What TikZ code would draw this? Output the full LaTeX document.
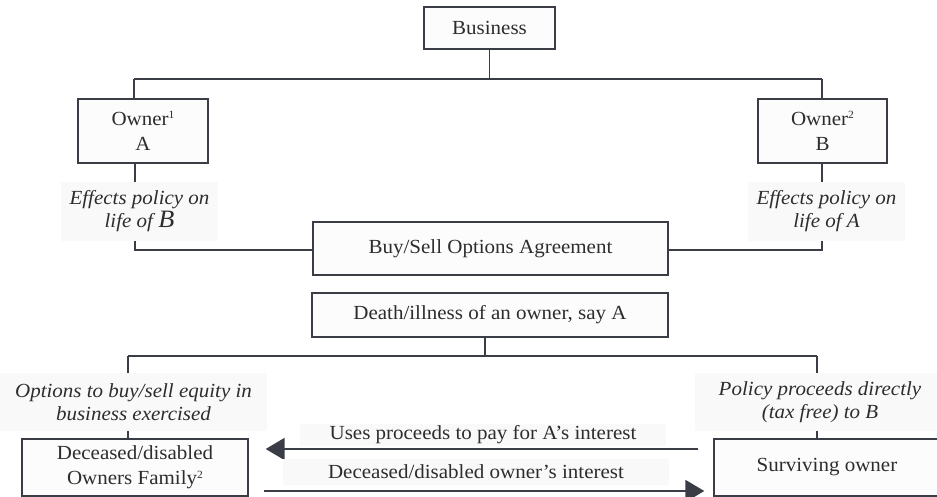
\documentclass[tikz,border=0pt]{standalone}
\usepackage{fontspec}
\setmainfont{Liberation Serif}[FakeStretch=1.05]
\usetikzlibrary{arrows.meta,calc}
\definecolor{ln}{RGB}{58,61,70}
\definecolor{tx}{RGB}{45,45,48}
\definecolor{lbg}{RGB}{249,249,249}
\definecolor{bfill}{RGB}{252,252,252}
\newcommand\mysup[1]{\raisebox{6.5pt}{\fontsize{11}{11}\selectfont #1}}
\tikzset{
  box/.style={draw=ln, line width=1.4pt, fill=bfill, text=tx, align=center, inner sep=0pt,
    font=\fontsize{20}{25}\selectfont},
  lbl/.style={fill=lbg, text=tx, align=center, inner sep=0pt,
    font=\fontsize{20}{23}\selectfont\itshape},
  albl/.style={fill=lbg, text=tx, align=center, inner sep=0pt,
    font=\fontsize{20}{23}\selectfont},
  conn/.style={draw=ln, line width=1.4pt},
  arr/.style={draw=ln, line width=2pt, -{Triangle[length=19pt,width=22pt]}},
}
\begin{document}
\begin{tikzpicture}[x=1pt,y=-1pt]
\useasboundingbox (0,0) rectangle (937,497);
\clip (0,0) rectangle (937,497);
% boxes
\node[box, minimum width=131pt, minimum height=42pt] (biz) at (489.5,28) {Business};
\node[box, minimum width=130pt, minimum height=64pt] (ownA) at (143,131) {Owner\mysup{1}\\A};
\node[box, minimum width=129pt, minimum height=64pt] (ownB) at (822.5,131) {Owner\mysup{2}\\B};
\node[box, minimum width=355pt, minimum height=53pt] (buy) at (490.5,248.5) {Buy/Sell Options Agreement};
\node[box, minimum width=356pt, minimum height=44pt] (death) at (490,315) {Death/illness of an owner, say A};
\node[box, minimum width=226pt, minimum height=57pt] (dec) at (135,467.5) {Deceased/disabled\\Owners Family\mysup{2}};
\node[box, minimum width=226pt, minimum height=57pt] (surv) at (827,467.5) {Surviving owner};
% junction coordinates
\coordinate (j1) at (489.5,79);
\coordinate (jA) at (134,79);
\coordinate (jB) at (822,79);
\coordinate (kA) at (135,250);
\coordinate (kB) at (822,250);
\coordinate (j2) at (485,356);
\coordinate (jL) at (128,356);
\coordinate (jR) at (817,356);
\coordinate (ya) at (0,449);
\coordinate (yb) at (0,491);
% connectors
\draw[conn] (biz.south) -- (j1);
\draw[conn] (jA) -- (jB);
\draw[conn] (jA) -- (jA |- ownA.north);
\draw[conn] (jB) -- (jB |- ownB.north);
\draw[conn] (kA |- ownA.south) -- (kA) -- (buy.west |- kA);
\draw[conn] (kB |- ownB.south) -- (kB) -- (buy.east |- kB);
\draw[conn] (j2 |- death.south) -- (j2);
\draw[conn] (jL) -- (jR);
\draw[conn] (jL) -- (jL |- dec.north);
\draw[conn] (jR) -- (jR |- surv.north);
% labels on connectors
\node[lbl, minimum width=157pt, minimum height=59pt] (effA) at (139.5,211.5) {Effects policy on\\life of {\fontsize{25}{23}\selectfont B}};
\node[lbl, minimum width=157pt, minimum height=59pt] (effB) at (826.5,211.5) {Effects policy on\\life of A};
\node[lbl, minimum width=267pt, minimum height=58pt] (opt) at (133.5,402) {Options to buy/sell equity in\\business exercised};
\node[lbl, minimum width=250pt, minimum height=58pt] (pol) at (820,402) {Policy proceeds directly\\(tax free) to B};
% arrows
\draw[arr, shorten <=15pt, shorten >=17pt] (surv.west |- ya) -- (dec.east |- ya);
\draw[arr, shorten <=15pt, shorten >=9pt] (dec.east |- yb) -- (surv.west |- yb);
\node[albl, minimum width=366pt, minimum height=22pt] (uses) at (483,434.5) {Uses proceeds to pay for A’s interest};
\node[albl, minimum width=386pt, minimum height=26pt] (dint) at (476,472) {Deceased/disabled owner’s interest};
\end{tikzpicture}
\end{document}
